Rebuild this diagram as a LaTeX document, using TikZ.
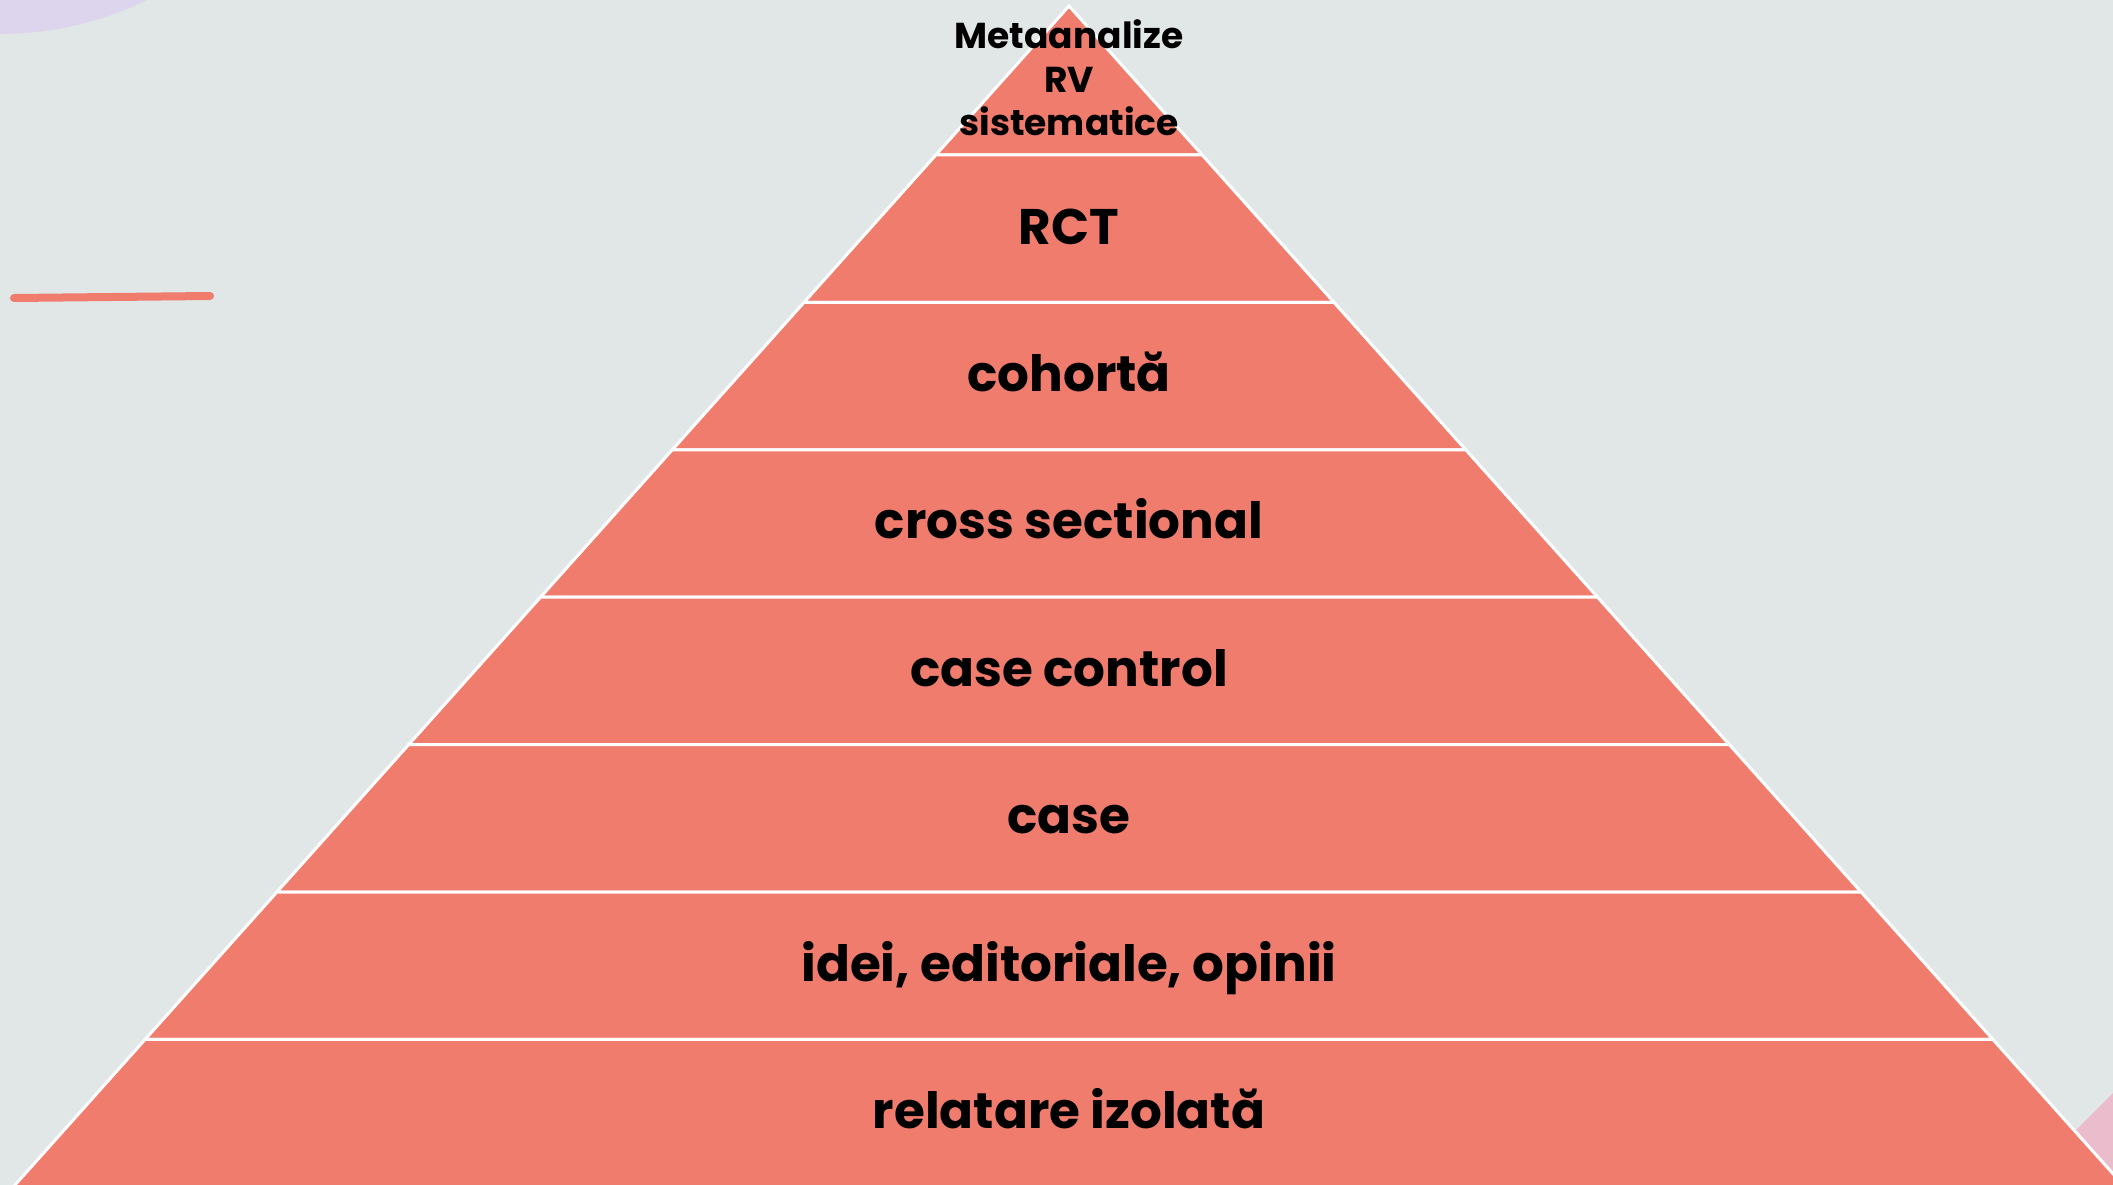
\documentclass[tikz,border=0pt]{standalone}
\usepackage{fontspec}
\setmainfont{Poppins}
\definecolor{bgc}{RGB}{225,231,231}
\definecolor{salmon}{RGB}{239,124,109}
\definecolor{lilac}{RGB}{221,212,238}
\definecolor{rose}{RGB}{235,189,204}
\begin{document}
\begin{tikzpicture}[x=1pt,y=-1pt,
  band/.style={fill=salmon,draw=white,line width=3pt,line join=miter},
  levellabel/.style={anchor=base,inner sep=0pt,font=\fontsize{50}{60}\selectfont\bfseries},
  toplabel/.style={anchor=base,inner sep=0pt,font=\fontsize{36}{43}\selectfont\bfseries}]
\useasboundingbox (0,0) rectangle (2113,1185);
\clip (0,0) rectangle (2113,1185);
\fill[bgc] (0,0) rectangle (2113,1185);
% decorative shapes in the corners
\fill[lilac] (0,-300) circle[radius=334pt];
\fill[rose] (2113,1093) -- (2010,1196) -- (2120,1196) -- cycle;
% accent stroke on the left
\draw[salmon,line width=8pt,line cap=round] (14,298) -- (210,296);
% pyramid bands: apex at (1069,6), half width grows 0.894 per unit of height
\pgfmathsetmacro{\apx}{1069}
\pgfmathsetmacro{\apy}{6}
\pgfmathsetmacro{\k}{0.894}
\draw[band] (\apx,\apy) -- ({\apx+\k*(155-\apy)},155) -- ({\apx-\k*(155-\apy)},155) -- cycle;
\foreach \i in {0,...,6}{
  \pgfmathsetmacro{\ya}{155+147.4*\i}
  \pgfmathsetmacro{\yb}{\i<6 ? 155+147.4*(\i+1) : 1260}
  \draw[band] ({\apx-\k*(\ya-\apy)},\ya) -- ({\apx+\k*(\ya-\apy)},\ya)
     -- ({\apx+\k*(\yb-\apy)},\yb) -- ({\apx-\k*(\yb-\apy)},\yb) -- cycle;
}
% labels
\node[toplabel] (meta1) at (1069,49) {Metaanalize};
\node[toplabel] (meta2) at (1069,93) {RV};
\node[toplabel] (meta3) at (1069,136) {sistematice};
\node[levellabel] (rct) at (1069,244) {RCT};
\node[levellabel] (coh) at (1069,391.4) {cohortă};
\node[levellabel] (cross) at (1069,538.8) {cross sectional};
\node[levellabel] (cc) at (1069,686.2) {case control};
\node[levellabel] (cs) at (1069,833.6) {case};
\node[levellabel] (idei) at (1069,981) {idei, editoriale, opinii};
\node[levellabel] (rel) at (1069,1128.4) {relatare izolată};
\end{tikzpicture}
\end{document}
